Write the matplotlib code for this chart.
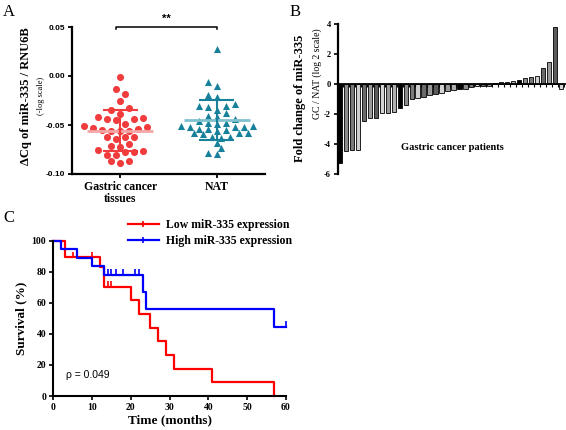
"""
miR-335: A) dCq scatter GC vs NAT, B) waterfall GC/NAT fold change, C) Kaplan-Meier.
"""
import matplotlib
matplotlib.use("Agg")
import matplotlib.pyplot as plt
from matplotlib.lines import Line2D
import numpy as np

# ---- data ----
GC_VALUES = [-0.0014, -0.0136, -0.018, -0.025, -0.033, -0.035, -0.0415, -0.0436,
             -0.044, -0.0425, -0.0385, -0.045, -0.051, -0.049, -0.053, -0.055,
             -0.0558, -0.0558, -0.0558, -0.0544, -0.0517, -0.0626, -0.0646,
             -0.0626, -0.062, -0.0714, -0.0694, -0.0755, -0.078, -0.078, -0.077,
             -0.072, -0.0806, -0.081, -0.0864, -0.0885, -0.087]
NAT_VALUES = [0.0272, -0.0061, -0.0102, -0.0197, -0.0211, -0.0306, -0.0286, -0.0306,
              -0.032, -0.0347, -0.038, -0.0405, -0.042, -0.0456, -0.0442, -0.0483,
              -0.049, -0.0476, -0.051, -0.0524, -0.0524, -0.0537, -0.0524, -0.051,
              -0.0544, -0.055, -0.0578, -0.0585, -0.059, -0.0585, -0.0565, -0.062,
              -0.0636, -0.062, -0.0687, -0.0738, -0.0796, -0.0789]
GC_MEAN, GC_SD = -0.0558, 0.021
NAT_MEAN, NAT_SD = -0.0449, 0.0208
CATEGORIES = ["Gastric cancer\ntissues", "NAT"]

FOLD_CHANGE = [-5.25, -4.47, -4.4, -4.4, -2.45, -2.24, -2.24, -1.96, -1.96, -1.84,
               -1.62, -1.4, -1.02, -0.92, -0.88, -0.7, -0.68, -0.6, -0.45, -0.4,
               -0.35, -0.3, -0.22, -0.15, -0.15, -0.12, 0.08, 0.12, 0.12, 0.2,
               0.27, 0.38, 0.5, 0.53, 1.04, 1.49, 3.78, -0.3]

LOW_TIMES = [0, 3, 12, 13, 20, 22, 25, 27, 29, 31, 41, 57]
LOW_SURV = [100, 89.5, 83.3, 70.4, 61.5, 52.7, 43.9, 35.1, 26.3, 17.6, 8.8, 0]
LOW_CENSOR = [5, 10, 14, 15]
HIGH_TIMES = [0, 2, 6, 10, 13, 23, 24, 57, 60]
HIGH_SURV = [100, 94.4, 88.9, 83.7, 78.2, 67.0, 55.8, 44.6, 44.6]
HIGH_CENSOR = [14, 15, 16.2, 18, 21, 22.2, 60]

SERIF = "Liberation Serif"
SANS = "Liberation Sans"
RED_PT = "#f03c3c"
TEAL_PT = "#17809a"
GRAYS = ["#000000", "#8c8c8c", "#7a7a7a", "#cfcfcf", "#6a6a6a",
         "#9a9a9a", "#5c5c5c", "#d4d4d4", "#9a9a9a", "#b0b0b0"]

plt.rcParams["font.family"] = SERIF

fig = plt.figure(figsize=(5.66, 4.30), dpi=100)


def fx(px):
    return px / 566.0


def fy(py):
    return 1 - py / 430.0


def swarm(vals, diam, ypx, xpx, step):
    """simple beeswarm offsets (pixel space -> data units)"""
    placed = []
    offs = np.zeros(len(vals))
    for i in np.argsort(vals):
        y = vals[i] * ypx
        cand = 0.0
        for k in range(60):
            opts = [0.0] if k == 0 else [k * step, -k * step]
            if k % 2 == 0 and k > 0:
                opts = opts[::-1]
            good = None
            for c in opts:
                if all((c - px) ** 2 + (y - py) ** 2 >= diam ** 2 for px, py in placed):
                    good = c
                    break
            if good is not None:
                cand = good
                break
        placed.append((cand, y))
        offs[i] = cand / xpx
    return offs


# ---- Panel A ----
axA = fig.add_axes([fx(72), fy(174), fx(265 - 72), fy(27) - fy(174)])
ypx = 147 / 0.15
xpx = (265 - 72) / 2.0
for xi, vals, col, mk, mean, sd, mcol, dia in [
        (0, GC_VALUES, RED_PT, "o", GC_MEAN, GC_SD, "#f6a6a6", 7.4),
        (1, NAT_VALUES, TEAL_PT, "^", NAT_MEAN, NAT_SD, "#7fc1cd", 6.3)]:
    vals = np.array(vals)
    offs = swarm(vals, dia, ypx, xpx, 4.5)
    axA.scatter(xi + offs, vals, s=26, marker=mk, color=col, lw=0, zorder=3)
    axA.hlines(mean, xi - 0.34, xi + 0.34, color=mcol, lw=2, zorder=4)
    axA.hlines([mean - sd, mean + sd], xi - 0.18, xi + 0.18, color=col, lw=1.5, zorder=4)
    axA.vlines(xi, mean - sd, mean + sd, color=col, lw=1.5, zorder=4)
axA.set_xlim(-0.5, 1.5)
axA.set_ylim(-0.10, 0.05)
axA.set_yticks([0.05, 0.00, -0.05, -0.10])
axA.set_yticklabels(["0.05", "0.00", "-0.05", "-0.10"], family=SANS,
                    fontweight="bold", fontsize=6)
axA.set_xticks([0, 1])
axA.set_xticklabels(CATEGORIES, fontweight="bold", fontsize=8.5, linespacing=1.0)
for s in ["top", "right"]:
    axA.spines[s].set_visible(False)
for s in ["left", "bottom"]:
    axA.spines[s].set_linewidth(1.6)
axA.tick_params(width=1.3, length=3, pad=2)
# significance bracket
axA.plot([-0.04, -0.04, 1.0, 1.0], [0.048, 0.05, 0.05, 0.048], color="black",
         lw=1.1, clip_on=False)
axA.text(0.48, 0.053, "**", ha="center", va="bottom", fontweight="bold",
         fontsize=8, family=SANS)
fig.text(fx(26), fy(96), "ΔCq of miR-335 / RNU6B", rotation=90, ha="center",
         va="center", fontweight="bold", fontsize=9)
fig.text(fx(41), fy(96), "(-log scale)", rotation=90, ha="center", va="center",
         fontsize=6)

# ---- Panel B ----
axB = fig.add_axes([fx(338), fy(174), fx(565 - 338), fy(24) - fy(174)])
xb = np.arange(len(FOLD_CHANGE))
bar_cols = [GRAYS[i % len(GRAYS)] for i in xb]
axB.bar(xb, FOLD_CHANGE, width=0.72, color=bar_cols, edgecolor="black", lw=0.6)
axB.set_xlim(-0.35, 37.7)
axB.set_ylim(-6, 4)
axB.set_yticks([4, 2, 0, -2, -4, -6])
axB.set_yticklabels(["4", "2", "0", "-2", "-4", "-6"], fontweight="bold", fontsize=6)
axB.set_xticks(xb + 0.5)
axB.set_xticklabels([])
axB.tick_params(axis="x", length=2, width=0.8, direction="out")
axB.tick_params(axis="y", length=3, width=1.2, pad=2)
axB.spines["bottom"].set_position(("data", 0))
axB.spines["bottom"].set_linewidth(1.3)
axB.spines["left"].set_linewidth(1.6)
for s in ["top", "right"]:
    axB.spines[s].set_visible(False)
axB.text(0.502, 0.18, "Gastric cancer patients", transform=axB.transAxes,
         ha="center", va="center", fontweight="bold", fontsize=7.5)
fig.text(fx(300), fy(98), "Fold change of miR-335", rotation=90, ha="center",
         va="center", fontweight="bold", fontsize=9)
fig.text(fx(317), fy(74), "GC / NAT (log 2 scale)", rotation=90, ha="center",
         va="center", fontsize=7)

# ---- Panel C ----
axC = fig.add_axes([fx(53.3), fy(396), fx(286 - 53.3), fy(240.7) - fy(396)])
for times, surv, cens, col in [(LOW_TIMES, LOW_SURV, LOW_CENSOR, "#ff0000"),
                               (HIGH_TIMES, HIGH_SURV, HIGH_CENSOR, "#0000ff")]:
    axC.step(times, surv, where="post", color=col, lw=1.6, clip_on=False)
    idx = np.searchsorted(times, cens, side="right") - 1
    cy = np.array(surv)[idx]
    axC.plot(cens, cy + 1.5, ls="none", marker="|", ms=4, mew=1.2, color=col,
             clip_on=False)
axC.set_xlim(0, 60)
axC.set_ylim(0, 100)
axC.set_xticks(range(0, 61, 10))
axC.set_yticks(range(0, 101, 20))
for lab in axC.get_xticklabels() + axC.get_yticklabels():
    lab.set_fontweight("bold")
    lab.set_fontsize(7)
axC.tick_params(length=3, width=1.2, pad=2)
for s in ["top", "right"]:
    axC.spines[s].set_visible(False)
for s in ["left", "bottom"]:
    axC.spines[s].set_linewidth(1.5)
axC.set_xlabel("Time (months)", fontweight="bold", fontsize=9.5, labelpad=2)
axC.set_ylabel("Survival (%)", fontweight="bold", fontsize=9.5, labelpad=3)
axC.text(3.3, 13.5, "ρ = 0.049", family=SANS, fontsize=7.5, va="center")
handles = [Line2D([], [], color="#ff0000", lw=1.6, marker="|", ms=5, mew=1.2),
           Line2D([], [], color="#0000ff", lw=1.6, marker="|", ms=5, mew=1.2)]
axC.legend(handles, ["Low miR-335 expression", "High miR-335 expression"],
           loc="upper left", bbox_to_anchor=(0.30, 1.17), frameon=False,
           prop={"family": SERIF, "weight": "bold", "size": 8.5},
           handlelength=2.6, labelspacing=0.35, handletextpad=0.6, borderaxespad=0)

# panel letters
fig.text(fx(3), fy(12), "A", fontsize=12, va="center")
fig.text(fx(290), fy(12), "B", fontsize=12, va="center")
fig.text(fx(3), fy(218), "C", fontsize=12, va="center")

fig.savefig("out.png", dpi=100)
